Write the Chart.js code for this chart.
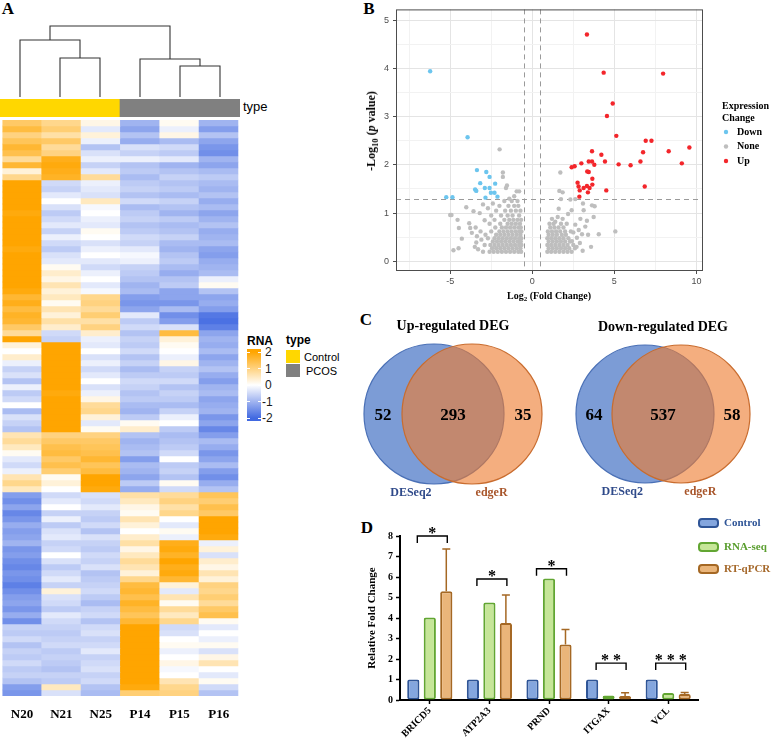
<!DOCTYPE html>
<html>
<head>
<meta charset="utf-8">
<title>PCOS RNA-seq figure</title>
<script src="https://cdn.jsdelivr.net/npm/chart.js@4.4.0/dist/chart.umd.min.js"></script>
<style>
  html, body { margin: 0; padding: 0; background: #fff; }
  #page { position: relative; width: 776px; height: 743px; overflow: hidden; font-family: "Liberation Serif", "Times New Roman", serif; }
  #page canvas { position: absolute; display: block; }
  .t { position: absolute; white-space: nowrap; line-height: 1; }
  .ctr { transform: translate(-50%, -50%); }
  .lc { transform: translateY(-50%); }
  .b { font-weight: bold; }
  .sans { font-family: "Liberation Sans", Arial, sans-serif; }
  sub { font-size: 0.7em; vertical-align: -0.3em; line-height: 0; }
  .swatch { position: absolute; width: 14px; height: 13px; }
  .cbtick { position: absolute; width: 3px; height: 1px; background: #fff; }
</style>
</head>
<body>
<div id="page">
  <!-- panel letters -->
  <div class="t ctr b" style="left:8px;top:8px;font-size:17px;">A</div>
  <div class="t ctr b" style="left:369px;top:8px;font-size:17px;">B</div>
  <div class="t ctr b" style="left:366px;top:319px;font-size:17px;">C</div>
  <div class="t ctr b" style="left:367px;top:527px;font-size:17px;">D</div>

  <!-- A: heatmap -->
  <canvas id="dendro" width="240" height="73" style="left:0;top:25px"></canvas>
  <canvas id="typeBar" width="240" height="18" style="left:0;top:99px"></canvas>
  <div class="t lc sans" style="left:243px;top:106px;font-size:13px;">type</div>
  <canvas id="heat" width="240" height="606" style="left:0;top:120px"></canvas>

  <div class="t ctr sans b" style="left:260px;top:341px;font-size:12px;">RNA</div>
  <div style="position:absolute;left:247px;top:349px;width:14px;height:72px;background:linear-gradient(to bottom,#FFA500 0%,#FFA500 4%,#ffffff 50%,#4169E1 96%,#4169E1 100%);"></div>
  <div class="cbtick" style="left:247px;top:352px"></div><div class="cbtick" style="left:258px;top:352px"></div>
  <div class="cbtick" style="left:247px;top:368px"></div><div class="cbtick" style="left:258px;top:368px"></div>
  <div class="cbtick" style="left:247px;top:385px"></div><div class="cbtick" style="left:258px;top:385px"></div>
  <div class="cbtick" style="left:247px;top:401px"></div><div class="cbtick" style="left:258px;top:401px"></div>
  <div class="cbtick" style="left:247px;top:418px"></div><div class="cbtick" style="left:258px;top:418px"></div>
  <div class="t lc sans" style="left:265px;top:352px;font-size:12px;color:#1a1a1a;">2</div>
  <div class="t lc sans" style="left:265px;top:369px;font-size:12px;color:#1a1a1a;">1</div>
  <div class="t lc sans" style="left:265px;top:385px;font-size:12px;color:#1a1a1a;">0</div>
  <div class="t lc sans" style="left:262px;top:402px;font-size:12px;color:#1a1a1a;">-1</div>
  <div class="t lc sans" style="left:262px;top:418px;font-size:12px;color:#1a1a1a;">-2</div>
  <div class="t lc sans b" style="left:286px;top:340px;font-size:12px;">type</div>
  <div class="swatch" style="left:286px;top:350px;background:#FFD700"></div>
  <div class="swatch" style="left:286px;top:364px;background:#808080"></div>
  <div class="t lc sans" style="left:304px;top:357px;font-size:11px;">Control</div>
  <div class="t lc sans" style="left:306px;top:371px;font-size:11px;">PCOS</div>

  <!-- B: volcano -->
  <canvas id="volcano" width="416" height="300" style="left:360px;top:0"></canvas>
  <div class="t ctr b" style="left:549px;top:296px;font-size:10px;">Log<sub>2</sub> (Fold Change)</div>
  <div class="t b" style="left:371px;top:131px;font-size:12px;transform:translate(-50%,-50%) rotate(-90deg);">-Log<sub>10</sub> (<i>p</i> value)</div>

  <!-- C: venn -->
  <canvas id="vennUp" width="200" height="200" style="left:360px;top:300px"></canvas>
  <canvas id="vennDown" width="216" height="200" style="left:560px;top:300px"></canvas>

  <!-- D: bars -->
  <canvas id="bars" width="416" height="243" style="left:360px;top:500px"></canvas>
</div>

<script>
// ---------- A: heatmap data (z-scores, top row first) ----------
var samples = ['N20', 'N21', 'N25', 'P14', 'P15', 'P16'];
var sampleType = ['Control', 'Control', 'Control', 'PCOS', 'PCOS', 'PCOS'];

var N20 = [1.2,1.5,1.0,1.3,1.6, 1.4,0.8,1.6,0.3,0.9,
  2,2,2,2,2,1.9,2,2,2,2,2,1.9,2,2,2,2,2,2,1.9,
  1.6,1.8,1.5,1.7,1.6, 1.2,0.8,2, 0.3,0,0.4,-0.2,
  -0.6,-0.4,-0.8,-0.2,-0.7,-0.5,0,-0.9,-0.4,-0.6,-0.8,
  0.6,0.8,0.5, 0.1,-0.3,-0.5,-0.2, 0.6,0.9,0.5,
  -1.3,-1.5,-1.2,-1.6,-1.4,-1.1,-1.3,-1.2,-1.0,-1.4,-1.3,-1.5,-1.6,-1.4,-1.5,-1.7,-1.5,-1.3,-1.2,-1.4,-1.1,-1.5,
  -0.6,-0.7,-0.5,-0.8,-0.6,-0.7,-0.5,-0.7,-0.6,-0.8,-1.3, -1.4];
var N21 = [0.9,1.1,0.7,1.2,0.8, 1.0,1.8,1.9,1.8,1.7,
  -0.5,-0.6,-0.3,0,-0.4,-0.7,-0.5,-0.3,-0.6,-0.2,-0.5,-0.7,-0.4,-0.3,0.1,
  0.4,0.2,0.6,0.3, 0.5,0.1,0.6,0.3,0.7, 0.4,-0.5,-0.6,
  2,2,2,2,2,2,2,2,1.9,2,2,2,2,2,2,
  1.0,1.2,1.4, 1.5,1.2,1.4,1.1, 0.1,0.3,0,
  -0.5,-0.3,0,-0.6,-0.2,-0.7,-0.4,-0.3,-0.6,-0.5,0,-0.4,-0.7,-0.5,-0.3,-0.6,0.3,-0.4,-0.5,-0.7,-0.3,-0.5,
  -0.6,-0.7,-0.6,-0.5,-0.7,-0.6,-0.7,-0.8,-0.6,-0.7,0.5, -0.4];
var N25 = [0.2,-0.3,0.3,-0.2,-0.8, -0.4,-0.2,-0.6,-0.3,0.8,
  -0.2,-0.3,-0.4,0.5,-0.1,0,-0.2,-0.3,0.1,0,-0.4,-0.2,0,-0.3,-0.5,-0.2,0,-0.3,-0.1,
  0.9,1.0,0.8,1.1,0.7, 1.0,0.4,-0.2,
  -0.3,0,-0.4,-0.2,-0.5,-0.3,0,-0.4,-0.2,0.2,0.8,0.9,0.3,-0.3,0.1,
  1.0,1.2,1.3, 1.4,1.6,1.3,1.5, 2,2,1.9,
  -0.4,-0.5,-0.3,-0.6,-0.7,-0.5,-0.8,-0.4,-0.6,-0.7,-0.5,-0.6,-0.4,-0.8,-0.7,-0.6,-0.5,-0.7,-0.9,-0.6,-0.5,-0.8,
  -0.5,-0.4,-0.6,-0.5,-0.3,-0.6,-0.5,-0.4,-0.6,-0.5,-0.8, -0.9];
var P14 = [-1.0,-1.2,-0.8,-1.1,-0.4, -0.6,-0.2,-0.8,-0.7,-0.9,
  -0.7,-0.6,-0.8,-0.5,-0.9,-0.7,-0.6,-0.8,-0.7,-0.5,-0.6,-0.3,-0.1,-0.2,-0.6,-0.7,-0.8,-1.0,-0.9,
  -1.3,-1.4,-1.2,-0.3,-0.7, -0.5,-0.8,-0.6,
  -0.7,-0.5,-0.8,-0.6,-0.9,-0.7,-0.5,-0.6,-0.8,-0.7,-0.9,-1.0,-0.7,0.1,0.4,
  -0.8,-1.0,-0.9, -0.8,-1.3,-0.9,-1.0, -1.2,-0.7,-1.1,
  0.7,0.5,0.2,0.1,0.6,0.3,0,0.4,0.7,0.2,0.5,0.8,0.6,0.3,0.9,
  1.5,1.6,1.4,1.7,1.5,1.3,1.6,
  2,2,2,2,2,2,2,2,2,2,1.9, 1.1];
var P15 = [0.1,-0.2,0.2,-0.9,-0.5, -0.7,-0.3,-1.0,-0.8,-0.6,
  -0.8,-0.7,-0.9,-0.6,-0.8,-1.0,-0.7,-0.9,-0.8,-0.6,-0.9,-1.0,-0.8,-0.7,-0.9,-1.1,-0.8,-0.7,-1.2,
  -1.2,-1.4,-0.9,-1.5,-1.3, -0.4,1.5,0.3, 0.1,0,-0.2,0.2,
  -0.6,-0.7,-0.5,-0.8,-0.6,-0.7,-0.9,-0.6,-0.2,0,-0.7,
  -0.9,-0.8,-0.7, -0.5,0,-0.7,-0.6, -0.8,0.1,-0.5,
  0.8,1.0,0.7,0.9, 0,-0.3,0.1,-0.2,
  1.8,1.9,1.7,2,1.8,1.9,1.6,
  0.3,-0.3,0.6,0.1,0.8,0.5,0.9,
  -0.5,-0.4,0,0.1,-0.2,0,0.2,-0.1,0,0.6,0.9, 1.0];
var P16 = [-1.0,-1.3,-0.8,-1.2,-1.4, -1.5,-1.0,-1.2,-0.9,-0.7,
  -0.9,-1.0,-0.8,-1.1,-0.9,-1.2,-1.0,-0.8,-1.1,-1.0,-0.9,-1.2,-1.3,-1.1,-1.0,-0.9,-0.2,0.1,-0.8,
  -1.2,-1.1,-1.3,-1.8,-1.9, -1.7,-1.2,-1.0,
  -1.1,-0.9,-1.2,-1.0,-0.8,-1.1,-1.3,-1.0,-0.9,-1.2,-1.1,-1.0,-1.4,-1.2,-1.6,
  -1.3,-0.9,-1.1, -1.4,-1.2,-0.9,-1.3, -1.5,-1.1,-0.8,
  1.3,1.1,1.4,1.2, 2,2,2,1.9,
  -0.2,0.3,-0.4,0.4,0.2,0.6,0.3,
  1.0,0.9,1.1,0.8,1.2,1.4,0.1,
  -0.3,0,-0.2,0.1,-0.4,0.2,0.6,0,-0.3,0.1,-0.5, -0.8];

// hclust merges: [left, right, height]; strings are leaves, numbers are earlier merges
var dendroMerges = [['N21', 'N25', 39], ['P15', 'P16', 31], ['N20', 0, 57], ['P14', 1, 38], [2, 3, 71]];

// ---------- B: volcano data [log2FC, -log10 p] ----------
var upPts = [[3.33,4.70],[4.35,3.91],[7.97,3.89],[4.90,3.27],[4.55,3.01],[5.12,2.60],[6.91,2.50],[7.26,2.50],
  [8.31,2.28],[9.57,2.36],[3.64,2.28],[6.75,2.26],[4.21,2.21],[3.44,2.07],[3.64,2.07],[4.43,2.07],[6.59,2.07],
  [2.99,2.03],[3.78,2.00],[5.26,2.01],[5.99,1.99],[9.11,2.03],[2.40,1.95],[2.58,1.97],[3.44,1.85],[3.66,1.71],
  [2.76,1.63],[2.82,1.55],[2.89,1.47],[2.87,1.34],[3.13,1.52],[3.33,1.56],[3.49,1.52],[3.39,1.43],[3.66,1.59],
  [4.51,1.47],[6.85,1.55],[3.35,1.86]];
var downPts = [[-6.22,3.94],[-3.94,2.57],[-3.37,1.89],[-2.80,1.85],[-2.60,1.75],[-3.17,1.62],[-3.48,1.49],
  [-3.41,1.46],[-2.89,1.52],[-2.60,1.52],[-2.26,1.61],[-2.52,1.42],[-2.30,1.42],[-2.85,1.32],[-2.12,1.34],
  [-5.24,1.33],[-4.86,1.33]];
var nonePts = [
  [-3.0,0.2],[-2.6,0.2],[-2.35,0.2],[-2.1,0.2],[-1.85,0.2],[-1.6,0.2],[-1.35,0.2],[-1.1,0.2],[-0.85,0.2],[-0.68,0.2],
  [-2.45,0.27],[-2.2,0.27],[-1.95,0.27],[-1.7,0.27],[-1.45,0.27],[-1.2,0.27],[-0.95,0.27],[-0.72,0.27],
  [-2.9,0.34],[-2.55,0.34],[-2.3,0.34],[-2.05,0.34],[-1.8,0.34],[-1.55,0.34],[-1.3,0.34],[-1.05,0.34],[-0.8,0.34],[-0.66,0.34],
  [-2.4,0.41],[-2.15,0.41],[-1.9,0.41],[-1.65,0.41],[-1.4,0.41],[-1.15,0.41],[-0.9,0.41],[-0.7,0.41],
  [-2.7,0.48],[-2.3,0.48],[-2.05,0.48],[-1.8,0.48],[-1.55,0.48],[-1.3,0.48],[-1.05,0.48],[-0.8,0.48],[-0.67,0.48],
  [-2.2,0.55],[-1.95,0.55],[-1.7,0.55],[-1.45,0.55],[-1.2,0.55],[-0.95,0.55],[-0.72,0.55],
  [-2.5,0.62],[-2.0,0.62],[-1.75,0.62],[-1.5,0.62],[-1.25,0.62],[-1.0,0.62],[-0.78,0.62],[-0.66,0.62],
  [-2.25,0.7],[-1.85,0.7],[-1.6,0.7],[-1.35,0.7],[-1.1,0.7],[-0.85,0.7],[-0.7,0.7],
  [-2.6,0.78],[-1.95,0.78],[-1.5,0.78],[-1.25,0.78],[-1.0,0.78],[-0.75,0.78],
  [-2.3,0.86],[-1.7,0.86],[-1.4,0.86],[-1.15,0.86],[-0.9,0.86],[-0.68,0.86],
  [-2.5,0.95],[-1.9,0.95],[-1.5,0.95],[-1.2,0.95],[-0.8,0.95],
  [-2.2,1.05],[-1.65,1.05],[-1.3,1.05],[-1.0,1.05],[-0.72,1.05],
  [-2.0,1.15],[-1.45,1.15],[-1.1,1.15],[-0.85,1.15],[-1.7,1.25],[-1.25,1.25],[-0.9,1.25],[-0.95,1.45],[-0.8,1.45],
  [-5.0,0.96],[-4.92,0.96],[-4.55,0.86],[-4.47,0.69],[-4.8,0.23],[-4.49,0.27],[-4.29,0.47],[-4.02,1.12],
  [-3.84,0.79],[-3.78,0.69],[-3.58,1.04],[-3.68,0.59],[-3.41,0.39],[-3.37,0.52],[-3.3,0.25],[-3.1,0.45],
  [-3.45,0.7],[-2.9,0.85],[-3.2,1.0],[-2.7,1.1],[-2.4,1.2],[-3.5,0.3],[-3.15,0.62],[-2.85,0.55],[-3.0,1.18],
  [-1.99,2.32],[-1.79,1.84],[-1.79,1.75],[-1.6,1.52],[-1.54,1.57],[-1.4,1.3],[-1.1,1.35],
  [0.92,0.2],[1.15,0.2],[1.4,0.2],[1.65,0.2],[1.9,0.2],[2.15,0.2],[2.4,0.2],
  [1.0,0.27],[1.25,0.27],[1.5,0.27],[1.75,0.27],[2.0,0.27],[2.25,0.27],[2.6,0.27],
  [0.92,0.34],[1.15,0.34],[1.4,0.34],[1.65,0.34],[1.9,0.34],[2.15,0.34],[2.5,0.34],
  [1.0,0.41],[1.25,0.41],[1.5,0.41],[1.75,0.41],[2.0,0.41],[2.3,0.41],
  [0.92,0.48],[1.15,0.48],[1.4,0.48],[1.65,0.48],[1.9,0.48],[2.2,0.48],
  [1.0,0.55],[1.25,0.55],[1.5,0.55],[1.8,0.55],[2.05,0.55],
  [0.95,0.62],[1.2,0.62],[1.45,0.62],[1.7,0.62],[2.0,0.62],[2.35,0.62],
  [1.1,0.7],[1.35,0.7],[1.6,0.7],[1.9,0.7],[1.05,0.78],[1.3,0.78],[1.75,0.78],[2.1,0.78],[1.2,0.88],[1.85,0.88],
  [1.71,1.84],[1.65,1.46],[1.85,1.43],[1.75,1.29],[2.32,1.28],[2.62,1.29],[3.09,1.2],[3.13,1.06],[3.64,1.16],
  [3.8,1.14],[3.74,0.92],[3.33,0.84],[2.93,0.88],[2.62,0.76],[4.05,0.56],[3.58,0.3],[3.07,0.22],[5.06,0.62],
  [2.4,1.06],[2.18,0.98],[1.61,1.09],[1.55,0.92],[1.4,0.82],[2.72,0.49],[2.42,0.42],[2.83,0.65],[3.23,0.72],
  [3.03,0.56],[2.7,0.3],[2.9,0.38],[2.5,0.6],[3.4,0.55]];
var fcCut = [-0.5, 0.5];
var pCut = -Math.log10(0.05);

// ---------- C: venn counts [DESeq2 only, both, edgeR only] ----------
var upCounts = [52, 293, 35];
var downCounts = [64, 537, 58];

// ---------- D: relative fold change ----------
var genes = ['BRICD5', 'ATP2A3', 'PRND', 'ITGAX', 'VCL'];
var controlFC = [1, 1, 1, 1, 1];
var rnaSeqFC = [4.02, 4.76, 5.93, 0.22, 0.34];
var qpcrFC = [5.3, 3.76, 2.71, 0.19, 0.29];
var qpcrErr = [2.06, 1.36, 0.73, 0.16, 0.07];
var sigMark = ['*', '*', '*', '* *', '* * *'];
var sigLevel = [8.0, 5.9, 6.4, 1.8, 1.8];

// ---------------------------------------------------------------
Chart.defaults.font.family = '"Liberation Serif", "Times New Roman", serif';
Chart.defaults.color = '#000';
var SANS = '"Liberation Sans", Arial, sans-serif';
var quiet = { legend: { display: false }, tooltip: { enabled: false } };

function heatColor(v) {
  var t = Math.min(Math.abs(v) / 2, 1);
  var c = v >= 0 ? [255, 165, 0] : [65, 105, 225];
  return 'rgb(' + c.map(function (k) { return Math.round(255 + (k - 255) * t); }).join(',') + ')';
}

// dendrogram
var mergeX = [];
function nodeX(n) { return typeof n === 'string' ? samples.indexOf(n) + 0.5 : mergeX[n]; }
function nodeH(n) { return typeof n === 'string' ? 0 : dendroMerges[n][2]; }
var dendroSets = dendroMerges.map(function (m, i) {
  var xl = nodeX(m[0]), xr = nodeX(m[1]);
  mergeX[i] = (xl + xr) / 2;
  return {
    data: [{ x: xl, y: nodeH(m[0]) }, { x: xl, y: m[2] }, { x: xr, y: m[2] }, { x: xr, y: nodeH(m[1]) }],
    showLine: true, pointRadius: 0, borderColor: '#333', borderWidth: 1.1, clip: false
  };
});
new Chart(document.getElementById('dendro'), {
  type: 'scatter',
  data: { datasets: dendroSets },
  options: {
    responsive: false, animation: false, events: [], plugins: quiet,
    scales: { x: { display: false, min: 0, max: 6 }, y: { display: false, min: -1, max: 72 } }
  }
});

// annotation bar
var typeColors = { Control: '#FFD700', PCOS: '#808080' };
new Chart(document.getElementById('typeBar'), {
  type: 'bar',
  data: { labels: samples, datasets: [{ data: samples.map(function () { return 1; }),
    backgroundColor: sampleType.map(function (t) { return typeColors[t]; }),
    borderWidth: 0, barPercentage: 1, categoryPercentage: 1 }] },
  options: {
    responsive: false, animation: false, events: [], plugins: quiet,
    scales: { x: { display: false }, y: { display: false, min: 0, max: 1 } }
  }
});

// heatmap: one stacked unit bar per gene row, coloured by z-score
var heatCols = [N20, N21, N25, P14, P15, P16];
var heatRows = N20.map(function (_, r) {
  return {
    data: samples.map(function () { return 1; }),
    backgroundColor: heatCols.map(function (col) { return heatColor(col[r]); }),
    borderWidth: 0, barPercentage: 1, categoryPercentage: 1
  };
});
new Chart(document.getElementById('heat'), {
  type: 'bar',
  data: { labels: samples, datasets: heatRows },
  options: {
    responsive: false, animation: false, events: [], plugins: quiet,
    layout: { padding: 0 },
    scales: {
      x: { stacked: true, grid: { display: false, drawTicks: false }, border: { display: false },
           ticks: { padding: 11, color: '#000', font: { size: 13, weight: 'bold' } },
           afterFit: function (s) { s.height = 30; } },
      y: { stacked: true, display: false, reverse: true, min: 0, max: N20.length }
    }
  }
});

// ---------- volcano ----------
var volcanoDeco = {
  id: 'volcanoDeco',
  beforeDatasetsDraw: function (chart) {
    var ctx = chart.ctx, a = chart.chartArea, x = chart.scales.x, y = chart.scales.y;
    ctx.save();
    ctx.strokeStyle = '#9a9a9a'; ctx.lineWidth = 1; ctx.setLineDash([5, 4]);
    fcCut.forEach(function (v) {
      var px = Math.round(x.getPixelForValue(v)) + 0.5;
      ctx.beginPath(); ctx.moveTo(px, a.top); ctx.lineTo(px, a.bottom); ctx.stroke();
    });
    var py = Math.round(y.getPixelForValue(pCut)) + 0.5;
    ctx.beginPath(); ctx.moveTo(a.left, py); ctx.lineTo(a.right, py); ctx.stroke();
    ctx.restore();
  },
  afterDraw: function (chart) {
    var ctx = chart.ctx, a = chart.chartArea;
    ctx.save();
    ctx.strokeStyle = '#4d4d4d'; ctx.lineWidth = 1;
    ctx.strokeRect(a.left + 0.5, a.top + 0.5, a.right - a.left - 1, a.bottom - a.top - 1);
    ctx.fillStyle = '#000'; ctx.textAlign = 'left'; ctx.textBaseline = 'middle';
    ctx.font = 'bold 10px "Liberation Serif"';
    ctx.fillText('Expression', a.right + 19, 106);
    ctx.fillText('Change', a.right + 19, 118);
    chart.data.datasets.forEach(function (ds, i) {
      var yy = 132 + i * 14.5;
      ctx.fillStyle = ds.backgroundColor;
      ctx.beginPath(); ctx.arc(a.right + 23, yy, 2.2, 0, Math.PI * 2); ctx.fill();
      ctx.fillStyle = '#000';
      ctx.fillText(ds.label, a.right + 34, yy);
    });
    ctx.restore();
  }
};
function toXY(p) { return { x: p[0], y: p[1] }; }
new Chart(document.getElementById('volcano'), {
  type: 'scatter',
  data: { datasets: [
    { label: 'Down', data: downPts.map(toXY), backgroundColor: '#6cc5ee', order: 2 },
    { label: 'None', data: nonePts.map(toXY), backgroundColor: '#bebebe', order: 3 },
    { label: 'Up', data: upPts.map(toXY), backgroundColor: '#f3262b', order: 1 }
  ] },
  options: {
    responsive: false, animation: false, events: [], plugins: quiet,
    elements: { point: { radius: 2.2, borderWidth: 0 } },
    layout: { padding: { top: 1, right: 73, left: 0, bottom: 0 } },
    scales: {
      x: { type: 'linear', min: -8.3, max: 10.4,
           ticks: { stepSize: 2.5, includeBounds: false, autoSkip: false, maxRotation: 0, padding: 2,
                    color: '#4d4d4d', font: { family: SANS, size: 9 },
                    callback: function (v) { return v % 5 === 0 ? v : ''; } },
           grid: { tickLength: 3,
                   color: function (c) { return c.tick && c.tick.value % 5 === 0 ? '#e4e4e4' : '#f2f2f2'; },
                   tickColor: function (c) { return c.tick && c.tick.value % 5 === 0 ? '#4d4d4d' : 'rgba(0,0,0,0)'; } },
           border: { display: false },
           afterFit: function (s) { s.height = 29; } },
      y: { type: 'linear', min: -0.2, max: 5.22,
           ticks: { stepSize: 0.5, includeBounds: false, autoSkip: false, padding: 4,
                    color: '#4d4d4d', font: { family: SANS, size: 9 },
                    callback: function (v) { return Number.isInteger(v) ? v : ''; } },
           grid: { tickLength: 3,
                   color: function (c) { return c.tick && Number.isInteger(c.tick.value) ? '#e4e4e4' : '#f2f2f2'; },
                   tickColor: function (c) { return c.tick && Number.isInteger(c.tick.value) ? '#4d4d4d' : 'rgba(0,0,0,0)'; } },
           border: { display: false },
           afterFit: function (s) { s.width = 36; } }
    }
  },
  plugins: [volcanoDeco]
});

// ---------- venn ----------
var vennText = {
  id: 'vennText',
  afterDatasetsDraw: function (chart, args, o) {
    var ctx = chart.ctx;
    var a = chart.getDatasetMeta(0).data[0], b = chart.getDatasetMeta(1).data[0];
    var r = a.options.radius, mid = (a.x + b.x) / 2;
    ctx.save();
    ctx.textAlign = 'center'; ctx.textBaseline = 'middle'; ctx.fillStyle = '#000';
    ctx.font = 'bold 14px "Liberation Serif"';
    ctx.fillText(o.title, mid, a.y - r - 18);
    ctx.font = 'bold 17px "Liberation Serif"';
    ctx.fillText(o.counts[0], mid - r, a.y + 2);
    ctx.fillText(o.counts[1], mid, a.y + 2);
    ctx.fillText(o.counts[2], mid + r, a.y + 2);
    ctx.font = 'bold 12px "Liberation Serif"';
    ctx.fillStyle = '#2f4a8a';
    ctx.fillText(chart.data.datasets[0].label, a.x - 0.33 * r, a.y + r + 9);
    ctx.fillStyle = '#a8552a';
    ctx.fillText(chart.data.datasets[1].label, b.x + 0.28 * r, b.y + r + 9);
    ctx.restore();
  }
};
// circles sit at x = 0 (DESeq2) and x = 1 (edgeR); the scale range is chosen so the
// centres land at cxA / cxB px, allowing for the padding Chart.js reserves for bubbles
function vennChart(id, title, counts, radius, cxA, cxB, cy) {
  var canvas = document.getElementById(id);
  var bw = 1.2, o = radius + bw, unit = cxB - cxA;
  var xMin = -(cxA - o) / unit, xMax = xMin + (canvas.width - 2 * o) / unit;
  var yMax = (cy - o) / 100, yMin = yMax - (canvas.height - 2 * o) / 100;
  new Chart(canvas, {
    type: 'bubble',
    data: { datasets: [
      { label: 'DESeq2', data: [{ x: 0, y: 0 }], radius: radius, backgroundColor: 'rgba(68,114,196,0.7)',
        borderColor: '#4a70b6', borderWidth: bw, order: 2, clip: false },
      { label: 'edgeR', data: [{ x: 1, y: 0 }], radius: radius, backgroundColor: 'rgba(237,125,49,0.62)',
        borderColor: '#c96c2e', borderWidth: bw, order: 1, clip: false }
    ] },
    options: {
      responsive: false, animation: false, events: [],
      plugins: { legend: { display: false }, tooltip: { enabled: false }, vennText: { title: title, counts: counts } },
      layout: { padding: 0 },
      scales: { x: { display: false, min: xMin, max: xMax }, y: { display: false, min: yMin, max: yMax } }
    },
    plugins: [vennText]
  });
}
vennChart('vennUp', 'Up-regulated DEG', upCounts, 70, 74, 112, 114);
vennChart('vennDown', 'Down-regulated DEG', downCounts, 69, 85, 121, 114);

// ---------- bars ----------
var barColors = [
  { fill: 'rgb(132,166,222)', line: 'rgb(47,85,151)', text: '#2f5597' },
  { fill: 'rgb(198,230,152)', line: 'rgb(98,166,50)', text: '#5a9e2f' },
  { fill: 'rgb(234,181,122)', line: 'rgb(165,104,36)', text: '#a5682a' }
];
var barDeco = {
  id: 'barDeco',
  afterDatasetsDraw: function (chart) {
    var ctx = chart.ctx, y = chart.scales.y, a = chart.chartArea;
    var ctrl = chart.getDatasetMeta(0).data, q = chart.getDatasetMeta(2).data;
    ctx.save();
    // error bars (upper only)
    ctx.strokeStyle = barColors[2].line; ctx.lineWidth = 1.5;
    q.forEach(function (bar, i) {
      var top = y.getPixelForValue(qpcrFC[i] + qpcrErr[i]);
      ctx.beginPath();
      ctx.moveTo(bar.x, bar.y); ctx.lineTo(bar.x, top);
      ctx.moveTo(bar.x - 4, top); ctx.lineTo(bar.x + 4, top);
      ctx.stroke();
    });
    // significance brackets
    ctx.strokeStyle = '#000'; ctx.lineWidth = 1.4; ctx.fillStyle = '#000';
    ctx.font = 'bold 16px "Liberation Serif"'; ctx.textAlign = 'center'; ctx.textBaseline = 'alphabetic';
    genes.forEach(function (g, i) {
      var xl = ctrl[i].x + 4, xr = q[i].x + 1, yy = y.getPixelForValue(sigLevel[i]);
      ctx.beginPath();
      ctx.moveTo(xl, yy + 7); ctx.lineTo(xl, yy); ctx.lineTo(xr, yy); ctx.lineTo(xr, yy + 7);
      ctx.stroke();
      ctx.fillText(sigMark[i], (xl + xr) / 2, yy + 2);
    });
    // legend
    ctx.font = 'bold 11px "Liberation Serif"'; ctx.textAlign = 'left'; ctx.textBaseline = 'middle';
    var rows = [23, 47, 69];
    chart.data.datasets.forEach(function (ds, i) {
      var bx = a.right + 1, by = rows[i];
      ctx.fillStyle = barColors[i].fill; ctx.strokeStyle = barColors[i].line; ctx.lineWidth = 2;
      ctx.beginPath(); ctx.roundRect(bx, by - 4, 19, 8, 3); ctx.fill(); ctx.stroke();
      ctx.fillStyle = barColors[i].text;
      ctx.fillText(ds.label, bx + 25, by);
    });
    ctx.restore();
  }
};
var barSeries = [['Control', controlFC], ['RNA-seq', rnaSeqFC], ['RT-qPCR', qpcrFC]];
new Chart(document.getElementById('bars'), {
  type: 'bar',
  data: { labels: genes, datasets: barSeries.map(function (s, i) {
    return { label: s[0], data: s[1], backgroundColor: barColors[i].fill, borderColor: barColors[i].line,
             borderWidth: 2, borderSkipped: false, borderRadius: 2, barPercentage: 0.74, categoryPercentage: 0.83 };
  }) },
  options: {
    responsive: false, animation: false, events: [], plugins: quiet,
    layout: { padding: { top: 36, right: 78, left: 0, bottom: 0 } },
    scales: {
      x: { grid: { offset: false, drawOnChartArea: false, tickLength: 4, tickColor: '#000', tickWidth: 1.5 },
           border: { color: '#000', width: 2 },
           ticks: { maxRotation: 45, minRotation: 45, padding: 1, color: '#000', font: { size: 10, weight: 'bold' } },
           afterFit: function (s) { s.height = 43; } },
      y: { min: 0, max: 8,
           ticks: { stepSize: 1, padding: 3, color: '#000', font: { size: 10, weight: 'bold' } },
           grid: { drawOnChartArea: false, tickLength: 4, tickColor: '#000', tickWidth: 1.5 },
           border: { color: '#000', width: 2 },
           title: { display: true, text: 'Relative Fold Change', padding: { top: 6, bottom: 0 },
                    font: { size: 11, weight: 'bold' } },
           afterFit: function (s) { s.width = 40; } }
    }
  },
  plugins: [barDeco]
});
</script>
</body>
</html>
